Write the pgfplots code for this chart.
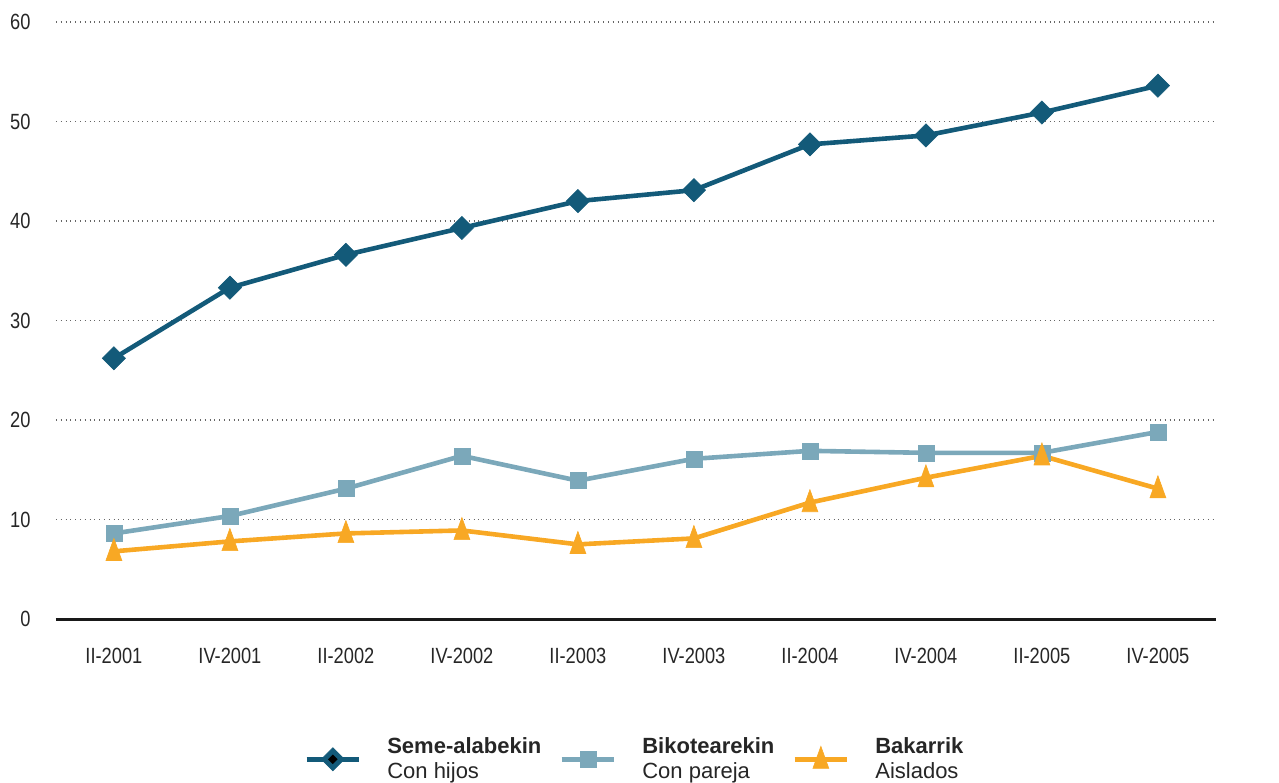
\documentclass[border=0pt]{standalone}
\usepackage{pgfplots}
\pgfplotsset{compat=1.18}
\usepackage{fontspec}
\setmainfont{Liberation Sans}[FakeStretch=0.83]
\newfontfamily\legfont{Liberation Sans}
\definecolor{cdark}{HTML}{135A79}
\definecolor{clight}{HTML}{7BA8BA}
\definecolor{corange}{HTML}{F8A824}
\begin{document}
\begin{tikzpicture}
\begin{axis}[
  name=main,
  scale only axis, width=580pt, height=298.5pt,
  xmin=-0.5, xmax=9.5, ymin=0, ymax=60,
  xtick={0,...,9},
  xticklabels={II-2001,IV-2001,II-2002,IV-2002,II-2003,IV-2003,II-2004,IV-2004,II-2005,IV-2005},
  ytick={0,10,...,60},
  /pgf/number format/assume math mode=true,
  major tick length=0pt,
  axis x line*=bottom, axis y line*=left,
  x axis line style={black!90, line width=1.5pt},
  y axis line style={draw=none},
  ymajorgrids, major grid style={dotted, gray!80!black, line width=0.6pt},
  tick label style={font=\fontsize{11}{13}\selectfont, text=black!85},
  yticklabel style={anchor=east, inner sep=0pt, xshift=-12.5pt},
  xticklabel style={anchor=north, inner sep=0pt, yshift=-14.5pt},
  legend columns=3,
  legend style={draw=none, at={(0.5,0)}, anchor=north, yshift=-55pt,
    font=\legfont\fontsize{11}{12.4}\selectfont, text=black!85,
    cells={anchor=west, align=left},
    /tikz/every even column/.append style={column sep=7pt},
    /tikz/every odd column/.append style={column sep=11pt}},
  legend image code/.code={\draw[mark repeat=2,mark phase=2] plot coordinates {(0cm,0cm) (0.46cm,0cm) (0.92cm,0cm)};},
]
\addplot[cdark, line width=2.3pt, mark=square*, mark size=4.1pt, mark options={rotate=45, solid, line width=0.3pt},
  legend image code/.code={\draw[mark repeat=2,mark phase=2] plot coordinates {(0cm,0cm) (0.46cm,0cm) (0.92cm,0cm)}; \fill[black] (0.46cm,0cm) circle (0.8pt);}] coordinates {
(0,26.2) (1,33.3) (2,36.6) (3,39.3) (4,42.0) (5,43.1) (6,47.7) (7,48.6) (8,50.9) (9,53.6)};
\addlegendentry{\textbf{Seme-alabekin}\\Con hijos}
\addplot[clight, line width=2.3pt, mark=square*, mark size=4pt, mark options={solid, line width=0.3pt}] coordinates {
(0,8.6) (1,10.35) (2,13.1) (3,16.4) (4,13.9) (5,16.1) (6,16.9) (7,16.7) (8,16.7) (9,18.8)};
\addlegendentry{\textbf{Bikotearekin}\\Con pareja}
\addplot[corange, line width=2.3pt, mark=triangle*, mark size=4.6pt, mark options={yshift=-0.9pt, yscale=1.6, solid, line width=0.3pt}] coordinates {
(0,6.8) (1,7.8) (2,8.6) (3,8.9) (4,7.5) (5,8.1) (6,11.7) (7,14.2) (8,16.4) (9,13.1)};
\addlegendentry{\textbf{Bakarrik}\\Aislados}
\end{axis}
\begin{axis}[
  scale only axis, width=580pt, height=298.5pt,
  xmin=-0.5, xmax=9.5, ymin=0, ymax=60,
  ytick={0,10,...,60}, xtick=\empty,
  /pgf/number format/assume math mode=true,
  major tick length=0pt,
  axis lines=none,
  yticklabel pos=right,
  tick label style={font=\fontsize{11}{13}\selectfont, text=black!85},
  yticklabel style={anchor=west, inner sep=0pt, xshift=15.5pt},
]
\addplot[draw=none, forget plot] coordinates {(0,0)};
\end{axis}
\pgfresetboundingbox
\path[use as bounding box] (main.south west) ++(-27.95pt,-81.5pt) rectangle ++(639.5pt,391pt);
\end{tikzpicture}
\end{document}
